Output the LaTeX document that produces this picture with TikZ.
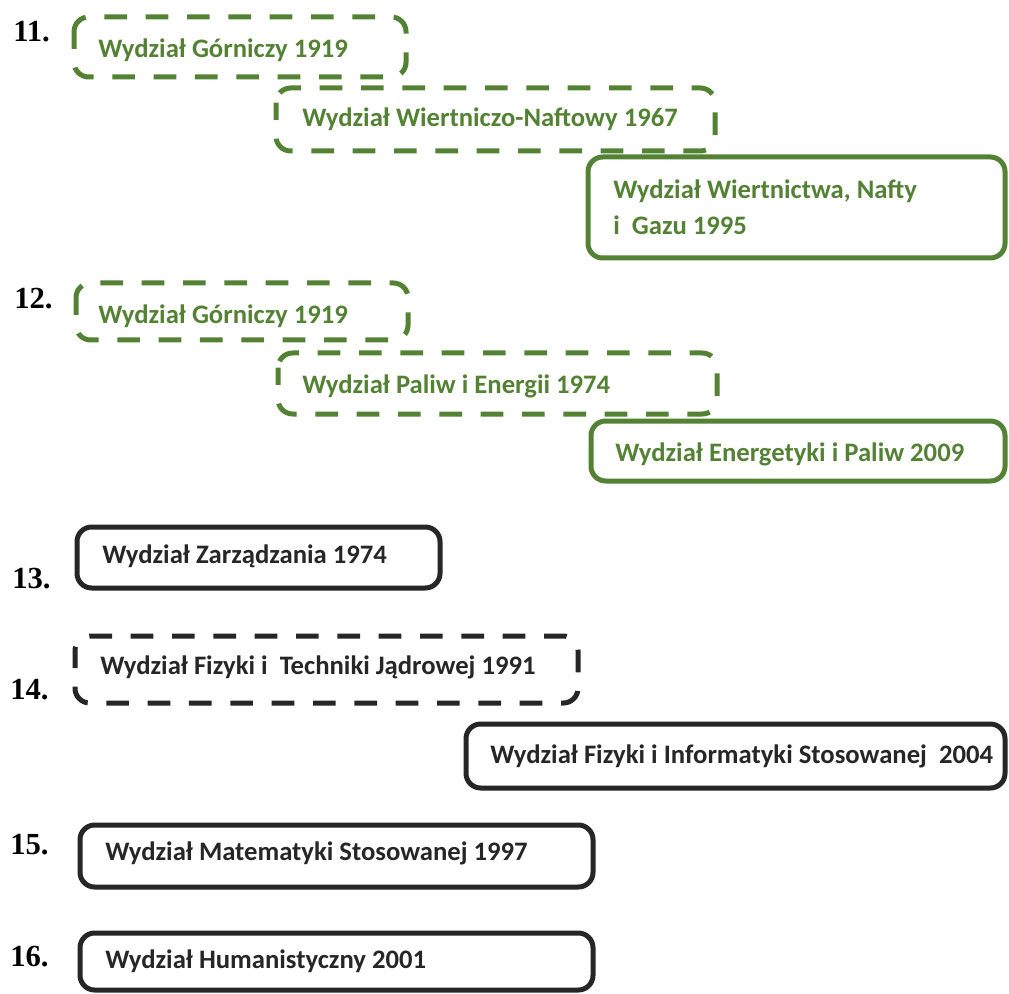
\documentclass[tikz,border=0pt]{standalone}
\usepackage{fontspec}
\setmainfont{Carlito}
\newfontfamily\numfont{Liberation Serif}
\usepackage{tikz}

\definecolor{wgreen}{RGB}{84,130,53}
\definecolor{wdark}{RGB}{38,38,38}

\tikzset{
  facbox/.style={line width=3.75pt, rounded corners=11pt},
  dashbox/.style={facbox, dash pattern=on 17pt off 14pt, dash phase=4pt},
  facname/.style={anchor=base west, inner sep=0pt, font=\bfseries\fontsize{20}{24}\selectfont},
  rowno/.style={anchor=base west, inner sep=0pt, font=\numfont\bfseries\fontsize{23}{27}\selectfont},
}

\begin{document}
\begin{tikzpicture}[x=0.75pt, y=-0.75pt]
\useasboundingbox (0,0) rectangle (1009,994);

% numbers of the rows
\foreach \n/\x/\y in {11/13/42, 12/14/309, 13/12/588, 14/10/699, 15/10/854, 16/10/966}{
	\node[rowno] (n\n) at (\x,\y) {\n.};
}

% 11
\draw[dashbox, wgreen] (74,17) rectangle (406,77);
\node[facname, wgreen] (gorn1) at (98,58) {Wydział Górniczy 1919};
\draw[dashbox, wgreen] (276,88) rectangle (715,151);
\node[facname, wgreen] (wnaft) at (302,127) {Wydział Wiertniczo-Naftowy 1967};
\draw[facbox, wgreen] (588,157) rectangle (1005,258);
\node[facname, wgreen] (wnig) at (613,199) {Wydział Wiertnictwa, Nafty};
\node[facname, wgreen] (wnig2) at (613,235) {i\ \ Gazu 1995};

% 12
\draw[dashbox, wgreen] (76,283) rectangle (408,340);
\node[facname, wgreen] (gorn2) at (98,324) {Wydział Górniczy 1919};
\draw[dashbox, wgreen] (278,353) rectangle (717,414);
\node[facname, wgreen] (pal) at (302,393) {Wydział Paliw i Energii 1974};
\draw[facbox, wgreen] (591,421) rectangle (1005,481);
\node[facname, wgreen] (eip) at (615,461) {Wydział Energetyki i Paliw 2009};

% 13
\draw[facbox, wdark] (77,527) rectangle (440,588);
\node[facname, wdark] (zarz) at (102,563) {Wydział Zarządzania 1974};

% 14
\draw[dashbox, wdark] (75,636) rectangle (578,703);
\node[facname, wdark] (ftj) at (100,674) {Wydział Fizyki i\ \ Techniki Jądrowej 1991};
\draw[facbox, wdark] (466,724) rectangle (1005,788);
\node[facname, wdark] (fis) at (490,763) {Wydział Fizyki i Informatyki Stosowanej\ \ 2004};

% 15
\draw[facbox, wdark] (80,825) rectangle (593,887);
\node[facname, wdark] (ms) at (105,860) {Wydział Matematyki Stosowanej 1997};

% 16
\draw[facbox, wdark] (80,933) rectangle (593,990);
\node[facname, wdark] (hum) at (105,968) {Wydział Humanistyczny 2001};
\end{tikzpicture}
\end{document}
